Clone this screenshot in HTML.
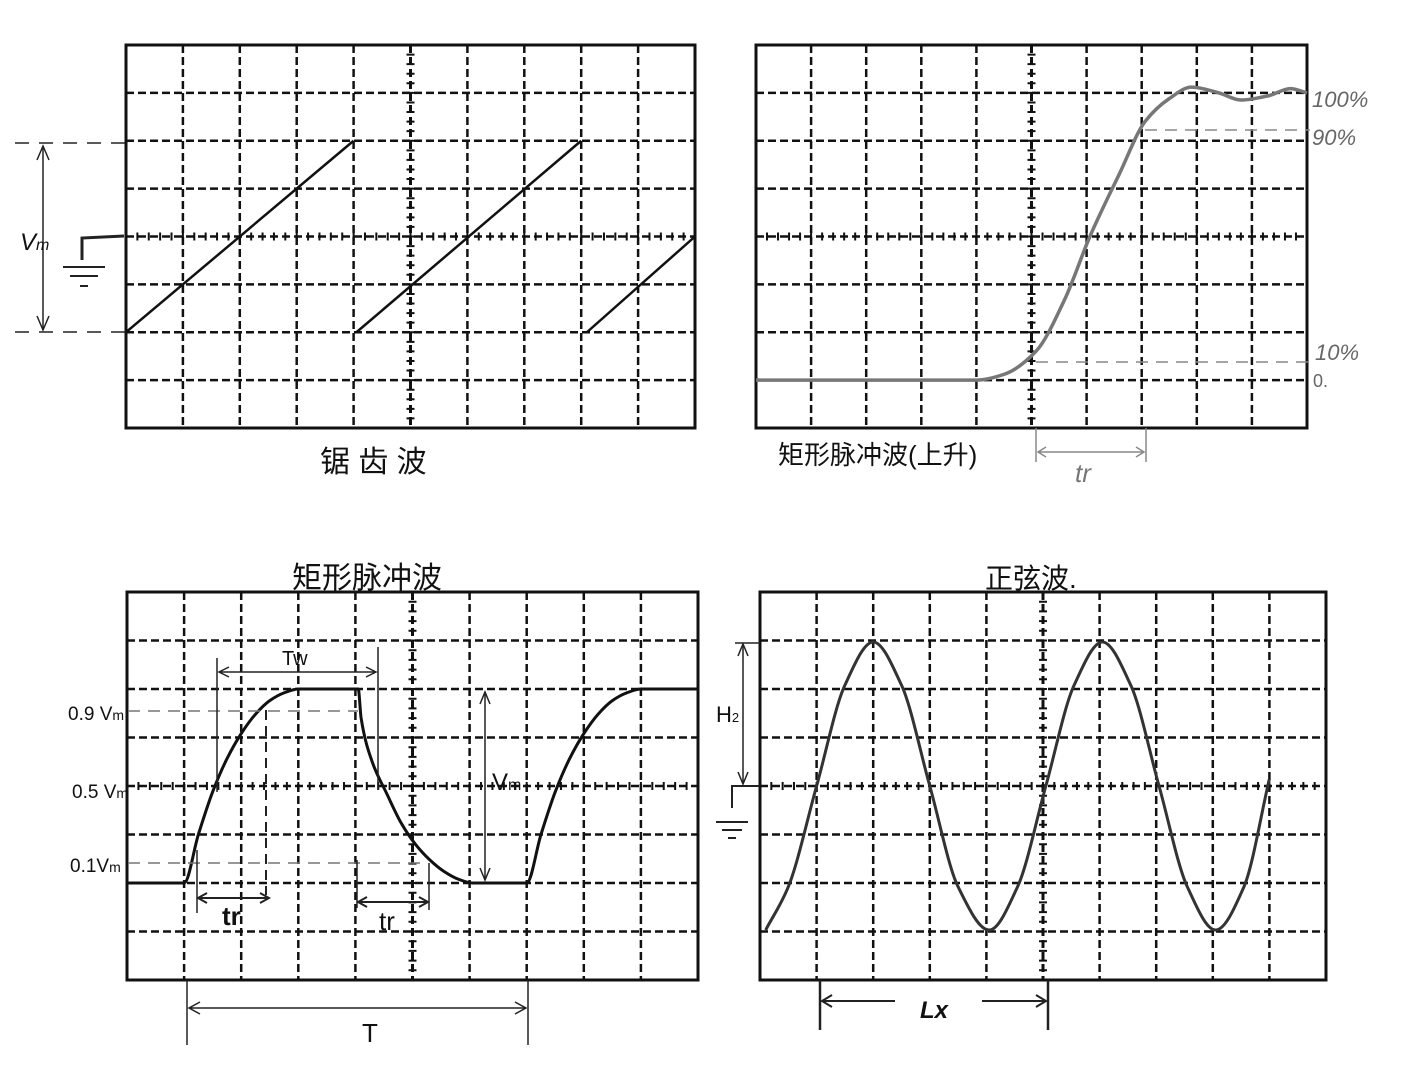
<!DOCTYPE html>
<html><head><meta charset="utf-8"><style>
html,body{margin:0;padding:0;background:#fff;}
svg{display:block;}
text{font-family:"Liberation Sans","Noto Sans CJK SC",sans-serif;fill:#111;}
</style></head><body>
<svg id="s" width="1412" height="1079" viewBox="0 0 1412 1079">
<g id="annot" stroke="#222" fill="none" stroke-width="1.5">
  <line x1="15" y1="143" x2="126" y2="143" stroke-dasharray="14 10"/>
  <line x1="15" y1="332" x2="126" y2="332" stroke-dasharray="14 10"/>
  <line x1="43" y1="146" x2="43" y2="330"/>
  <path d="M37 160 L43 146 L49 160 M37 316 L43 330 L49 316"/>
  <path d="M82 260 L82 238 L124 236" stroke-width="3"/>
  <path d="M63 267 L105 267 M70 276 L98 276 M80 286 L88 286" stroke-width="2"/>
  <line x1="1145" y1="130" x2="1310" y2="130" stroke="#888" stroke-dasharray="12 8"/>
  <line x1="1036" y1="362" x2="1310" y2="362" stroke="#888" stroke-dasharray="12 8"/>
  <line x1="1036" y1="428" x2="1036" y2="462" stroke="#888"/>
  <line x1="1146" y1="428" x2="1146" y2="462" stroke="#888"/>
  <path d="M1038 452 L1144 452 M1046 447 L1038 452 L1046 457 M1136 447 L1144 452 L1136 457" stroke="#888"/>
  <line x1="128" y1="711" x2="358" y2="711" stroke="#777" stroke-dasharray="12 8"/>
  <line x1="128" y1="863" x2="425" y2="863" stroke="#777" stroke-dasharray="12 8"/>
  <line x1="217" y1="658" x2="217" y2="792"/>
  <line x1="378" y1="647" x2="378" y2="790"/>
  <path d="M219 672 L376 672 M229 667 L219 672 L229 677 M366 667 L376 672 L366 677"/>
  <line x1="266" y1="710" x2="266" y2="895" stroke-dasharray="10 6" stroke-width="2"/>
  <line x1="197" y1="850" x2="197" y2="913"/>
  <path d="M198 898 L269 898 M207 893 L198 898 L207 903 M260 893 L269 898 L260 903" stroke-width="2"/>
  <line x1="357" y1="860" x2="357" y2="908"/>
  <line x1="429" y1="863" x2="429" y2="910"/>
  <path d="M358 902 L428 902 M367 897 L358 902 L367 907 M419 897 L428 902 L419 907" stroke-width="2"/>
  <line x1="485" y1="692" x2="485" y2="880"/>
  <path d="M480 704 L485 692 L490 704 M480 868 L485 880 L490 868"/>
  <line x1="187" y1="980" x2="187" y2="1045"/>
  <line x1="528" y1="980" x2="528" y2="1045"/>
  <path d="M189 1008 L526 1008 M200 1002 L189 1008 L200 1014 M515 1002 L526 1008 L515 1014"/>
  <line x1="743" y1="644" x2="743" y2="784"/>
  <path d="M738 656 L743 644 L748 656 M738 772 L743 784 L748 772"/>
  <line x1="735" y1="643" x2="760" y2="643"/>
  <path d="M732 808 L732 786 L760 786" stroke-width="2"/>
  <path d="M716 822 L748 822 M722 830 L742 830 M728 838 L736 838" stroke-width="2"/>
  <line x1="820" y1="980" x2="820" y2="1030" stroke-width="2.5"/>
  <line x1="1048" y1="980" x2="1048" y2="1030" stroke-width="2.5"/>
  <path d="M822 1001 L895 1001 M982 1001 L1046 1001 M832 995 L822 1001 L832 1007 M1036 995 L1046 1001 L1036 1007" stroke-width="2"/>
</g>
<g id="labels">
  <text x="20" y="250" font-size="24" font-style="italic">V<tspan font-size="16">m</tspan></text>
  <text x="320" y="472" font-size="30">锯 齿 波</text>
  <text x="778" y="464" font-size="26">矩形脉冲波(上升)</text>
  <text x="1075" y="482" font-size="26" font-style="italic" style="fill:#777">tr</text>
  <text x="1312" y="107" font-size="22" font-style="italic" style="fill:#666">100%</text>
  <text x="1312" y="145" font-size="22" font-style="italic" style="fill:#666">90%</text>
  <text x="1315" y="360" font-size="22" font-style="italic" style="fill:#666">10%</text>
  <text x="1313" y="387" font-size="18" style="fill:#666">0.</text>
  <text x="292" y="588" font-size="30">矩形脉冲波</text>
  <text x="985" y="588" font-size="28">正弦波.</text>
  <text x="282" y="665" font-size="20">Tw</text>
  <text x="68" y="720" font-size="19">0.9 V<tspan font-size="14">m</tspan></text>
  <text x="72" y="798" font-size="19">0.5 V<tspan font-size="14">m</tspan></text>
  <text x="70" y="872" font-size="19">0.1V<tspan font-size="14">m</tspan></text>
  <text x="222" y="925" font-size="26" font-weight="bold">tr</text>
  <text x="379" y="930" font-size="26">tr</text>
  <text x="492" y="790" font-size="24">V<tspan font-size="16">m</tspan></text>
  <text x="362" y="1042" font-size="26">T</text>
  <text x="716" y="722" font-size="22">H<tspan font-size="13">2</tspan></text>
  <text x="920" y="1018" font-size="24" font-style="italic" font-weight="bold">Lx</text>
</g>
</svg>
<script>
// Panel 1: sawtooth ramps
const sawStartCols = [0, 4.05, 8.1];
const sawEndCols = [4.0, 8.0, 10];
const sawStartRows = [6, 6, 6];
const sawEndRows = [2, 2, 4];
// Panel 2: rising edge (time in divisions, level 0..1)
const riseTimes = [0, 3.0, 4.0, 4.5, 5.08, 5.6, 6.06, 6.6, 7.06, 7.5, 7.9, 8.4, 8.8, 9.3, 9.7, 10];
const riseLevels = [0, 0, 0, 0.02, 0.1, 0.28, 0.5, 0.72, 0.9, 0.98, 1.02, 1.0, 0.975, 0.99, 1.015, 1.0];
// Panel 3: rectangular pulse (time divs, level 0..1)
const pulseTimes = [0, 1.0, 1.25, 1.5, 1.75, 2.0, 2.25, 2.5, 2.75, 3.0, 4.05, 4.1, 4.3, 4.55, 4.8, 5.05, 5.3, 5.55, 5.8, 6.05, 7.0, 7.25, 7.5, 7.75, 8.0, 8.25, 8.5, 8.75, 9.0, 10];
const pulseLevels = [0, 0, 0.25, 0.47, 0.64, 0.77, 0.87, 0.94, 0.98, 1.0, 1.0, 0.85, 0.62, 0.46, 0.31, 0.2, 0.12, 0.06, 0.02, 0, 0, 0.25, 0.47, 0.64, 0.77, 0.87, 0.94, 0.98, 1.0, 1.0];
// Panel 4: sine (time divs, level -1..1)
const sineTimes = [0.1, 0.5, 1.0, 1.5, 2.0, 2.5, 3.0, 3.5, 4.05, 4.55, 5.05, 5.55, 6.05, 6.55, 7.05, 7.55, 8.05, 8.55, 9.0];
const sineLevels = [-1, -0.7, 0, 0.7, 1, 0.7, 0, -0.7, -1, -0.7, 0, 0.7, 1, 0.7, 0, -0.7, -1, -0.7, 0.05];

const NS = "http://www.w3.org/2000/svg";
const svg = document.getElementById('s');
function mk(tag, attrs, parent) {
  const e = document.createElementNS(NS, tag);
  for (const k in attrs) e.setAttribute(k, attrs[k]);
  (parent || svg).appendChild(e);
  return e;
}
function panel(x0, y0, x1, y1, name) {
  const g = mk('g', {});
  
  
  const cw = (x1 - x0) / 10, rh = (y1 - y0) / 8;
  for (let i = 1; i < 10; i++) {
    const l = mk('line', {x1: x0 + i * cw, y1: y0, x2: x0 + i * cw, y2: y1, stroke: '#111', 'stroke-width': i === 5 ? 3 : 2.5, 'stroke-dasharray': '8 4'}, g);
    
    
  }
  for (let j = 1; j < 8; j++) {
    const l = mk('line', {x1: x0, y1: y0 + j * rh, x2: x1, y2: y0 + j * rh, stroke: '#111', 'stroke-width': 2.5, 'stroke-dasharray': '8 4'}, g);
    
    
  }
  let d = '';
  for (let i = 0; i <= 50; i++) { const x = x0 + i * cw / 5; d += `M${x} ${y0 + 4 * rh - 4} L${x} ${y0 + 4 * rh + 4} `; }
  for (let j = 0; j <= 40; j++) { const y = y0 + j * rh / 5; d += `M${x0 + 5 * cw - 4} ${y} L${x0 + 5 * cw + 4} ${y} `; }
  const t = mk('path', {d: d, stroke: '#111', 'stroke-width': 2}, g);
  
  
  const b = mk('rect', {x: x0, y: y0, width: x1 - x0, height: y1 - y0, fill: 'none', stroke: '#111', 'stroke-width': 3}, g);
  
  
  return {x: c => x0 + c * cw, y: r => y0 + r * rh};
}
// monotone cubic (Fritsch-Carlson) path
function monotone(pts) {
  const n = pts.length, dx = [], s = [], m = [];
  for (let i = 0; i < n - 1; i++) { dx[i] = pts[i + 1][0] - pts[i][0]; s[i] = (pts[i + 1][1] - pts[i][1]) / dx[i]; }
  m[0] = s[0]; m[n - 1] = s[n - 2];
  for (let i = 1; i < n - 1; i++) {
    if (s[i - 1] * s[i] <= 0) m[i] = 0;
    else { const w1 = 2 * dx[i] + dx[i - 1], w2 = dx[i] + 2 * dx[i - 1]; m[i] = (w1 + w2) / (w1 / s[i - 1] + w2 / s[i]); }
  }
  let d = `M${pts[0][0]} ${pts[0][1]}`;
  for (let i = 0; i < n - 1; i++) {
    const h = dx[i] / 3;
    d += ` C${pts[i][0] + h} ${pts[i][1] + m[i] * h} ${pts[i + 1][0] - h} ${pts[i + 1][1] - m[i + 1] * h} ${pts[i + 1][0]} ${pts[i + 1][1]}`;
  }
  return d;
}
const p1 = panel(126, 45, 695, 428, 'sawtooth-screen');
for (let i = 0; i < sawStartCols.length; i++) {
  const l = mk('line', {x1: p1.x(sawStartCols[i]), y1: p1.y(sawStartRows[i]), x2: p1.x(sawEndCols[i]), y2: p1.y(sawEndRows[i]), stroke: '#111', 'stroke-width': 2.5});
  
  
}
const p2 = panel(756, 45, 1307, 428, 'rise-screen');
const rp = riseTimes.map((t, i) => [p2.x(t), p2.y(7 - 6 * riseLevels[i])]);
const rl = mk('path', {d: monotone(rp), fill: 'none', stroke: '#777', 'stroke-width': 3.5});


const p3 = panel(127, 592, 698, 980, 'pulse-screen');
const pp = pulseTimes.map((t, i) => [p3.x(t), p3.y(6 - 4 * pulseLevels[i])]);
const pl = mk('path', {d: monotone(pp), fill: 'none', stroke: '#111', 'stroke-width': 3});


const p4 = panel(760, 592, 1326, 980, 'sine-screen');
const sp = sineTimes.map((t, i) => [p4.x(t), p4.y(4 - 2.97 * sineLevels[i])]);
const sl = mk('path', {d: monotone(sp), fill: 'none', stroke: '#333', 'stroke-width': 3});


svg.appendChild(document.getElementById('annot'));
svg.appendChild(document.getElementById('labels'));
</script>
</body></html>
